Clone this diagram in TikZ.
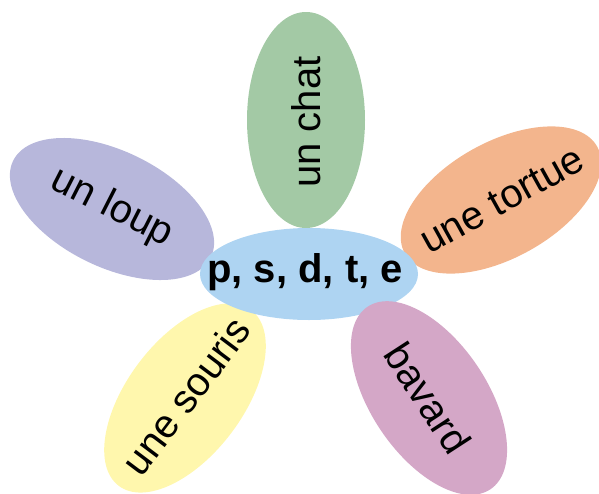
\documentclass[tikz,border=0pt]{standalone}
\usepackage{fontspec}
\setmainfont{Liberation Sans}
\definecolor{cblue}{RGB}{174,212,242}
\definecolor{cgreen}{RGB}{163,201,165}
\definecolor{corange}{RGB}{243,181,141}
\definecolor{clav}{RGB}{183,183,219}
\definecolor{cyellow}{RGB}{255,247,173}
\definecolor{cpurple}{RGB}{212,167,199}
\tikzset{
  label/.style={inner sep=0pt, font=\fontsize{40}{48}\selectfont, text=black},
  hublabel/.style={label, font=\fontsize{40}{48}\selectfont\bfseries}
}
\begin{document}
\begin{tikzpicture}[x=1pt,y=-1pt]
\useasboundingbox (0,0) rectangle (599,493);
\fill[cgreen] (306,120) ellipse [x radius=59pt, y radius=108pt];
\fill[corange, rotate around={29:(501,200)}] (501,200) ellipse [x radius=110pt, y radius=58pt];
\fill[clav, rotate around={-26:(112,209)}] (112,209) ellipse [x radius=110pt, y radius=58pt];
\fill[cyellow, rotate around={53:(185,398)}] (185,398) ellipse [x radius=110pt, y radius=58pt];
\fill[cblue] (309,274) ellipse [x radius=109pt, y radius=46pt];
\fill[cpurple, rotate around={-56:(429,398)}] (429,398) ellipse [x radius=110pt, y radius=58pt];
\node[label, rotate=90] (chat) at (306,122) {un chat};
\node[label, rotate=29] (tortue) at (502,200) {une tortue};
\node[label, rotate=-27] (loup) at (112,208) {un loup};
\node[label, rotate=53] (souris) at (186,396) {une souris};
\node[hublabel] (centre) at (305,272) {p, s, d, t, e};
\node[label, rotate=-57] (bavard) at (428,398) {bavard};
\end{tikzpicture}
\end{document}
